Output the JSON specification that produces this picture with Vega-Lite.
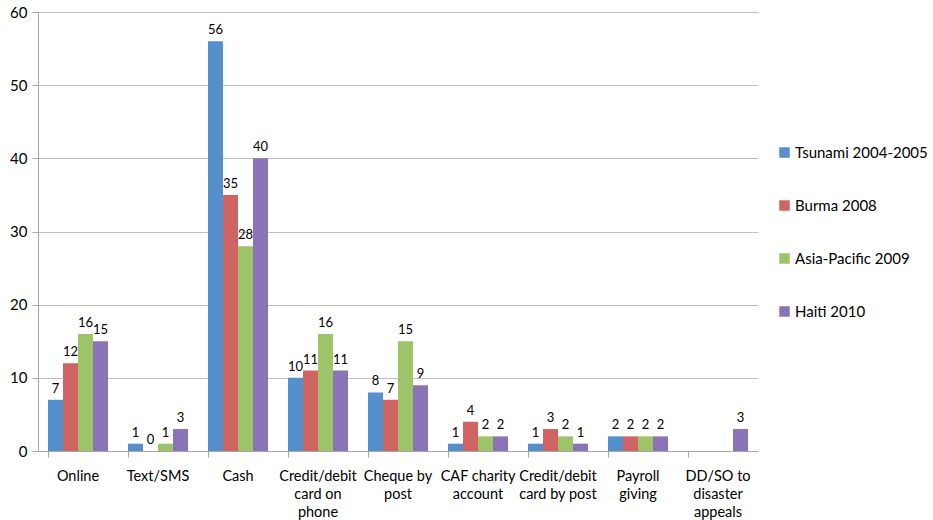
{
  "$schema": "https://vega.github.io/schema/vega-lite/v6.json",
  "autosize": "none",
  "width": 720,
  "height": 439,
  "padding": {"left": 38, "top": 12, "right": 175, "bottom": 69},
  "background": "white",
  "config": {"view": {"stroke": null}, "font": "Lato"},
  "data": {"values": [
    {"method": "Online", "appeal": "Tsunami 2004-2005", "value": 7},
    {"method": "Online", "appeal": "Burma 2008", "value": 12},
    {"method": "Online", "appeal": "Asia-Pacific 2009", "value": 16},
    {"method": "Online", "appeal": "Haiti 2010", "value": 15},
    {"method": "Text/SMS", "appeal": "Tsunami 2004-2005", "value": 1},
    {"method": "Text/SMS", "appeal": "Burma 2008", "value": 0},
    {"method": "Text/SMS", "appeal": "Asia-Pacific 2009", "value": 1},
    {"method": "Text/SMS", "appeal": "Haiti 2010", "value": 3},
    {"method": "Cash", "appeal": "Tsunami 2004-2005", "value": 56},
    {"method": "Cash", "appeal": "Burma 2008", "value": 35},
    {"method": "Cash", "appeal": "Asia-Pacific 2009", "value": 28},
    {"method": "Cash", "appeal": "Haiti 2010", "value": 40},
    {"method": "Credit/debit card on phone", "appeal": "Tsunami 2004-2005", "value": 10},
    {"method": "Credit/debit card on phone", "appeal": "Burma 2008", "value": 11},
    {"method": "Credit/debit card on phone", "appeal": "Asia-Pacific 2009", "value": 16},
    {"method": "Credit/debit card on phone", "appeal": "Haiti 2010", "value": 11},
    {"method": "Cheque by post", "appeal": "Tsunami 2004-2005", "value": 8},
    {"method": "Cheque by post", "appeal": "Burma 2008", "value": 7},
    {"method": "Cheque by post", "appeal": "Asia-Pacific 2009", "value": 15},
    {"method": "Cheque by post", "appeal": "Haiti 2010", "value": 9},
    {"method": "CAF charity account", "appeal": "Tsunami 2004-2005", "value": 1},
    {"method": "CAF charity account", "appeal": "Burma 2008", "value": 4},
    {"method": "CAF charity account", "appeal": "Asia-Pacific 2009", "value": 2},
    {"method": "CAF charity account", "appeal": "Haiti 2010", "value": 2},
    {"method": "Credit/debit card by post", "appeal": "Tsunami 2004-2005", "value": 1},
    {"method": "Credit/debit card by post", "appeal": "Burma 2008", "value": 3},
    {"method": "Credit/debit card by post", "appeal": "Asia-Pacific 2009", "value": 2},
    {"method": "Credit/debit card by post", "appeal": "Haiti 2010", "value": 1},
    {"method": "Payroll giving", "appeal": "Tsunami 2004-2005", "value": 2},
    {"method": "Payroll giving", "appeal": "Burma 2008", "value": 2},
    {"method": "Payroll giving", "appeal": "Asia-Pacific 2009", "value": 2},
    {"method": "Payroll giving", "appeal": "Haiti 2010", "value": 2},
    {"method": "DD/SO to disaster appeals", "appeal": "Haiti 2010", "value": 3}
  ]},
  "encoding": {
    "x": {
      "field": "method", "type": "nominal", "sort": null,
      "scale": {"paddingInner": 0.25, "paddingOuter": 0.125},
      "axis": {
        "title": null, "labelAngle": 0, "bandPosition": 0,
        "domainColor": "#a6a6a6", "tickColor": "#a6a6a6", "tickSize": 6,
        "labelFontSize": 14.5, "labelColor": "#000000", "labelPadding": 12,
        "labelLineHeight": 18, "labelBaseline": "top",
        "labelExpr": "datum.value == 'Credit/debit card on phone' ? ['Credit/debit','card on','phone'] : datum.value == 'Cheque by post' ? ['Cheque by','post'] : datum.value == 'CAF charity account' ? ['CAF charity','account'] : datum.value == 'Credit/debit card by post' ? ['Credit/debit','card by post'] : datum.value == 'Payroll giving' ? ['Payroll','giving'] : datum.value == 'DD/SO to disaster appeals' ? ['DD/SO to','disaster','appeals'] : datum.value"
      }
    },
    "xOffset": {"field": "appeal", "type": "nominal", "sort": ["Tsunami 2004-2005", "Burma 2008", "Asia-Pacific 2009", "Haiti 2010"]},
    "y": {
      "field": "value", "type": "quantitative",
      "scale": {"domain": [0, 60], "nice": false},
      "axis": {
        "title": null, "values": [0, 10, 20, 30, 40, 50, 60],
        "gridColor": "#bfbfbf", "domainColor": "#a6a6a6", "tickColor": "#a6a6a6",
        "tickSize": 6, "labelFontSize": 15, "labelColor": "#000000", "labelPadding": 5
      }
    }
  },
  "layer": [
    {
      "mark": {"type": "bar"},
      "encoding": {
        "color": {
          "field": "appeal", "type": "nominal",
          "sort": ["Tsunami 2004-2005", "Burma 2008", "Asia-Pacific 2009", "Haiti 2010"],
          "scale": {"domain": ["Tsunami 2004-2005", "Burma 2008", "Asia-Pacific 2009", "Haiti 2010"], "range": ["#5590cc", "#d06462", "#9dc468", "#8a73b6"]},
          "legend": {
            "title": null, "orient": "none", "legendX": 739, "legendY": 133,
            "symbolType": "square", "symbolSize": 110, "symbolStrokeWidth": 0,
            "labelFontSize": 15, "labelColor": "#000000", "rowPadding": 37, "labelOffset": 3
          }
        }
      }
    },
    {
      "mark": {"type": "text", "baseline": "bottom", "dy": -4, "fontSize": 13, "color": "#000000"},
      "encoding": {"text": {"field": "value", "type": "quantitative"}}
    }
  ]
}
